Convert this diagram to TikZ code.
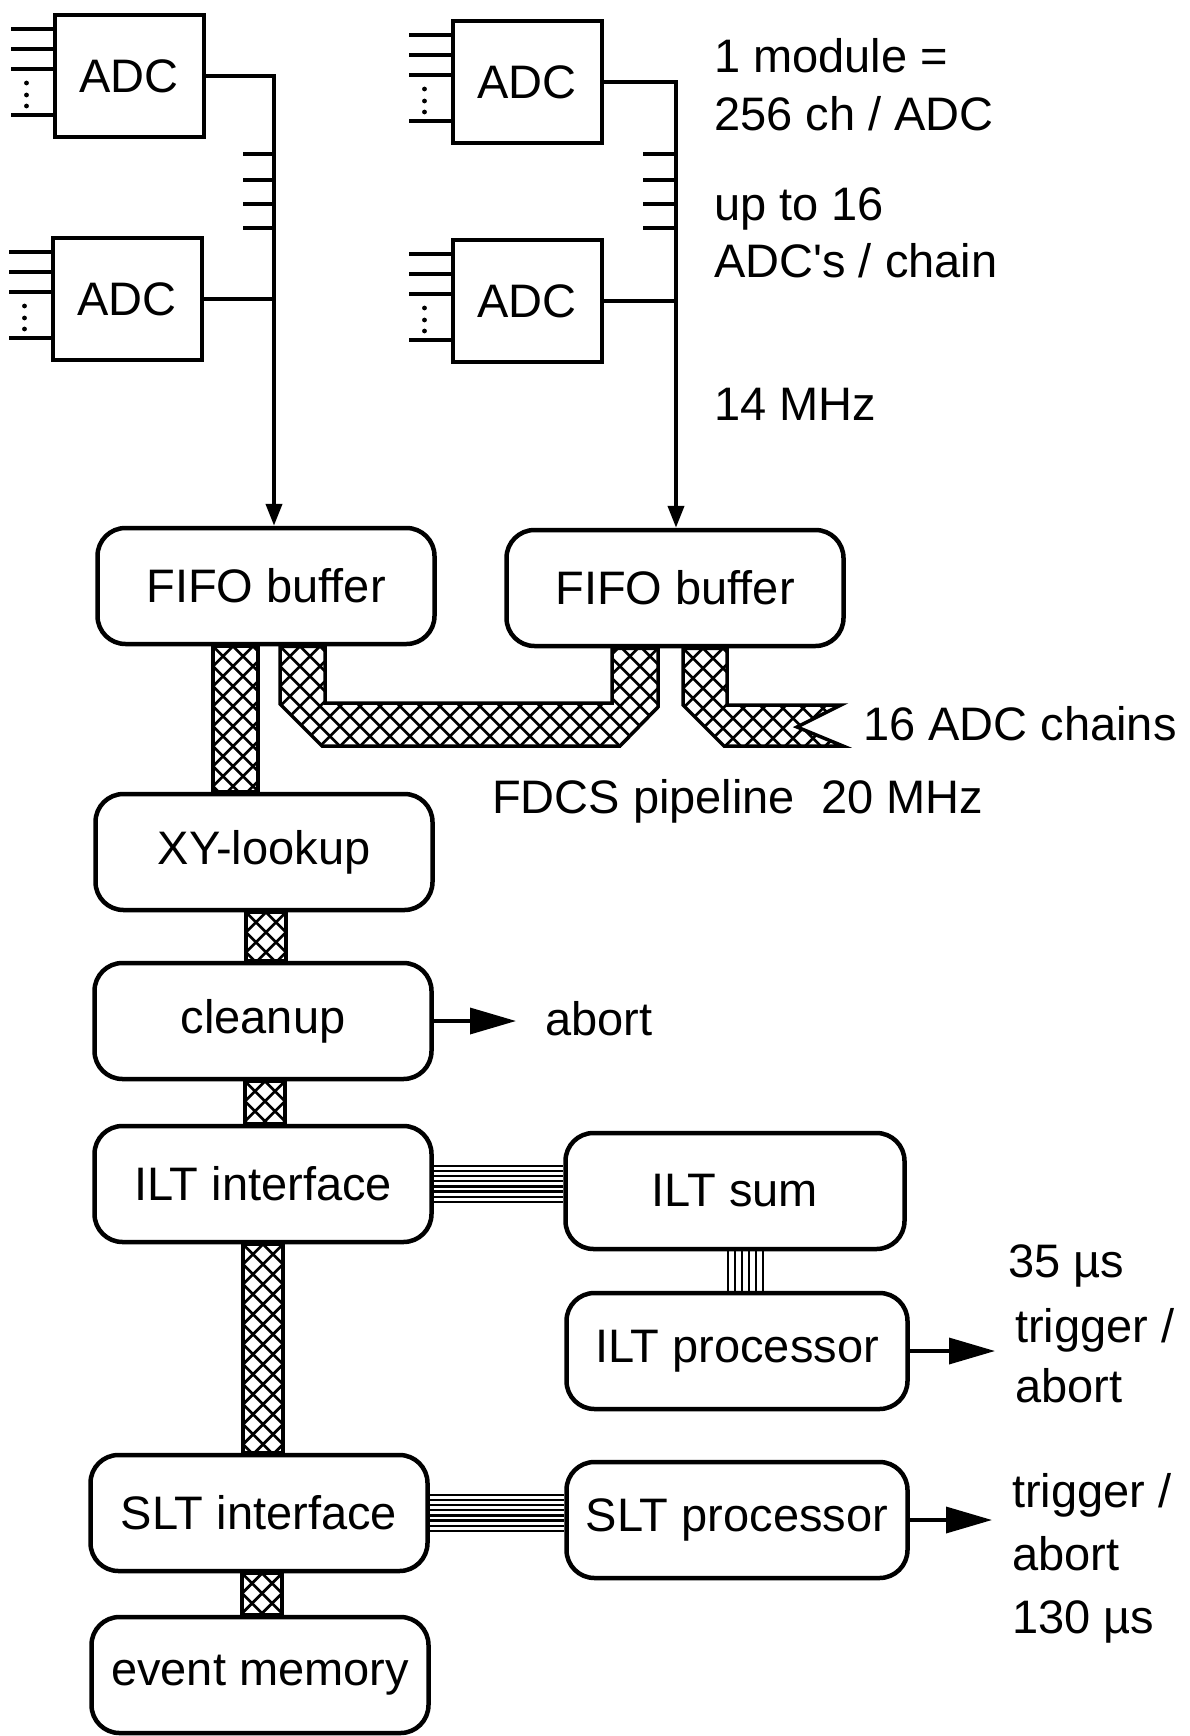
\documentclass[tikz,border=0pt]{standalone}
\usepackage{fontspec}
\setmainfont{Liberation Sans}
\usetikzlibrary{arrows.meta}

\begin{document}
\begin{tikzpicture}[
  x=1pt, y=-1pt,
  font=\fontsize{47}{56}\selectfont,
  adc/.style={draw, line width=4pt, minimum width=149pt, minimum height=122pt, inner sep=0pt},
  unit/.style={draw, line width=4.5pt, rounded corners=28pt, minimum width=337pt,
    minimum height=116pt, inner sep=0pt},
  bus/.style={line width=4pt},
  stub/.style={line width=3.5pt},
  hatch/.style={line width=2.8pt},
  band/.style={draw, line width=3.5pt, line join=miter,
    path picture={
      \foreach \k in {-260,-240,...,880} {
        \draw[hatch] ([xshift=\k pt]path picture bounding box.north west) -- ++(260,260);
        \draw[hatch] ([xshift=\k pt]path picture bounding box.north west) -- ++(-260,260);
      }}},
  wires/.style={line width=2.2pt},
  feed/.style={bus, -{Triangle[length=22pt, width=16pt]}},
  result/.style={line width=3.5pt, -{Triangle[length=46pt, width=26pt]}},
  lbl/.style={anchor=base west, inner sep=0pt},
]
  \useasboundingbox (0,0) rectangle (1190,1736);

  % ADC chains
  \node[adc] (adcA) at (129,76) {ADC};
  \node[adc] (adcB) at (127,299) {ADC};
  \node[adc] (adcC) at (527,82) {ADC};
  \node[adc] (adcD) at (527,301) {ADC};
  \foreach \a in {adcA,adcB,adcC,adcD} {
    \foreach \dy in {16,36,56,102}
      \draw[stub] ([yshift=-\dy]\a.north west) -- ++(-42,0);
    \foreach \dy in {70,82,93}
      \fill ([xshift=-26pt, yshift=-\dy]\a.north west) circle (2.4pt);
  }
  \coordinate (busL) at (274,0);
  \coordinate (busR) at (676,0);

  % processing units
  \node[unit] (fifoL) at (266,586) {FIFO buffer};
  \node[unit] (fifoR) at (675,588) {FIFO buffer};
  \node[unit] (xy) at (264,852) {XY-lookup};
  \node[unit] (cln) at (263,1021) {cleanup};
  \node[unit] (iltif) at (263,1184) {ILT interface};
  \node[unit] (sltif) at (259,1513) {SLT interface};
  \node[unit] (evm) at (260,1675) {event memory};
  \node[unit, minimum width=339pt] (iltsum) at (735,1191) {ILT sum};
  \node[unit, minimum width=341pt] (iltproc) at (737,1351) {ILT processor};
  \node[unit, minimum width=341pt] (sltproc) at (737,1520) {SLT processor};

  % 14 MHz daisy chains
  \draw[feed] (adcA.east) -| (busL |- fifoL.north);
  \draw[bus] (adcB.east) -- (adcB.east -| busL);
  \draw[feed] (adcC.east) -| (busR |- fifoR.north);
  \draw[bus] (adcD.east) -- (adcD.east -| busR);
  \foreach \ty in {154,180,204,228} {
    \draw[bus] (243,\ty) -- (274,\ty);
    \draw[bus] (643,\ty) -- (676,\ty);
  }

  % pipeline bands
  \path[band] ([xshift=-53pt]fifoL.south) rectangle ([xshift=-8pt]fifoL.south |- xy.north);
  \path[band] ([xshift=-18pt]xy.south) rectangle ([xshift=22pt]xy.south |- cln.north);
  \path[band] ([xshift=-18pt]cln.south) rectangle ([xshift=22pt]cln.south |- iltif.north);
  \path[band] ([xshift=-20pt]iltif.south) rectangle ([xshift=20pt]iltif.south |- sltif.north);
  \path[band] ([xshift=-17pt]sltif.south) rectangle ([xshift=23pt]sltif.south |- evm.north);
  \path[band] ([xshift=14pt]fifoL.south) -- (280,704) -- (322,746) -- (620,746) -- (658,707)
    -- ([xshift=-17pt]fifoR.south) -- ([xshift=-63pt]fifoR.south) -- (612,703) -- (325,703)
    -- ([xshift=59pt]fifoL.south) -- cycle;
  \path[band] ([xshift=8pt]fifoR.south) -- (683,705) -- (724,746) -- (843,746) -- (797,727)
    -- (841,705) -- (727,705) -- ([xshift=52pt]fifoR.south) -- cycle;

  % trigger links
  \foreach \i in {0,...,7} {
    \draw[wires] ([yshift={18-5.1*\i}]iltif.east) -- ([yshift={18-5.1*\i}]iltif.east -| iltsum.west);
    \draw[wires] ([yshift={18-5.1*\i}]sltif.east) -- ([yshift={18-5.1*\i}]sltif.east -| sltproc.west);
  }
  \foreach \i in {0,...,5}
    \draw[wires] ([xshift={-7+7*\i}]iltsum.south) -- ([xshift={-7+7*\i}]iltsum.south |- iltproc.north);

  % decisions
  \coordinate (abortend) at (516,1021);
  \coordinate (iltend) at (995,1351);
  \coordinate (sltend) at (992,1520);
  \draw[result] (cln.east) -- (abortend);
  \draw[result] (iltproc.east) -- (iltend);
  \draw[result] (sltproc.east) -- (sltend);

  % labels
  \node[lbl] (lmod) at (714,73) {1 module =};
  \node[lbl] (lch) at (714,131) {256 ch / ADC};
  \node[lbl] (lup) at (714,221) {up to 16};
  \node[lbl] (lchain) at (714,277) {ADC\textquotesingle s / chain};
  \node[lbl] (lfreq) at (714,420) {14 MHz};
  \node[lbl] (lchains) at (863,740) {16 ADC chains};
  \node[lbl] (lpipe) at (492,813) {FDCS pipeline\ \ 20 MHz};
  \node[lbl] (labort) at (545,1035) {abort};
  \node[lbl] (liltt) at (1008,1277) {35 µs};
  \node[lbl] (liltg) at (1015,1342) {trigger /};
  \node[lbl] (lilta) at (1015,1402) {abort};
  \node[lbl] (lsltg) at (1012,1507) {trigger /};
  \node[lbl] (lslta) at (1012,1570) {abort};
  \node[lbl] (lsltt) at (1012,1633) {130 µs};
\end{tikzpicture}
\end{document}
